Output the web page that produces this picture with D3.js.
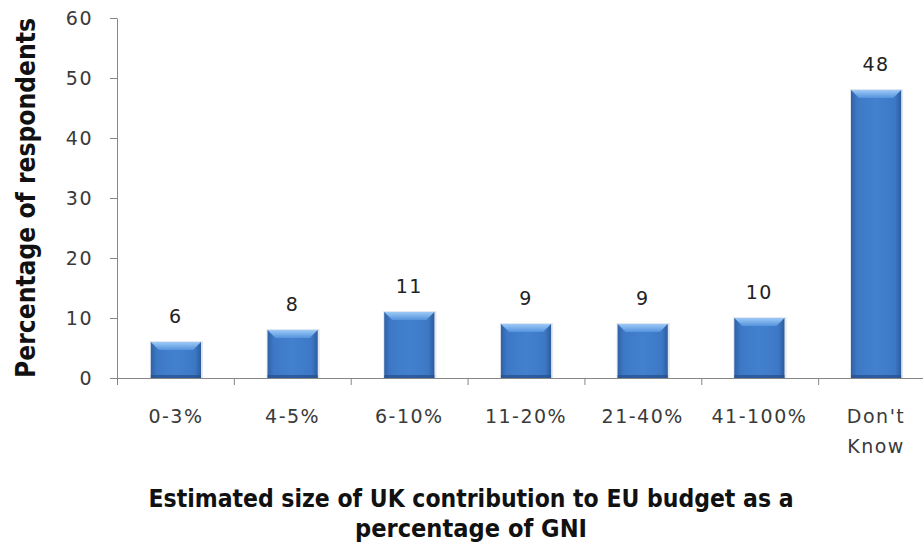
<!DOCTYPE html>
<html lang="en">
<head>
  <meta charset="UTF-8">
  <title>UK contribution to EU budget</title>
  <script src="https://d3js.org/d3.v7.min.js"></script>
  <style>
    body {
      margin: 0;
      background: #fff;
    }
    svg {
      display: block;
    }
    .axis path,
    .axis line {
      stroke: #868686;
    }
    .axis text {
      font-family: "DejaVu Sans", Verdana, sans-serif;
      font-size: 19px;
      fill: #3a3a3a;
      letter-spacing: 1.5px;
    }
    .value {
      font-family: "DejaVu Sans", Verdana, sans-serif;
      font-size: 19px;
      fill: #222;
      letter-spacing: 1.5px;
    }
    .title {
      font-family: "DejaVu Sans", sans-serif;
      font-weight: bold;
      fill: #111;
    }
  </style>
</head>
<body>
  <svg id="chart" width="923" height="550"></svg>

  <script>
    const categories = ["0-3%", "4-5%", "6-10%", "11-20%", "21-40%", "41-100%", "Don't Know"];
    const values = [6, 8, 11, 9, 9, 10, 48];
    const yTicks = [0, 10, 20, 30, 40, 50, 60];

    const width = 923, height = 550;
    const margin = { top: 18, right: -12, bottom: 172, left: 117 };
    const plotBottom = height - margin.bottom;

    const svg = d3.select("#chart");

    // gradients for the bevelled bars
    const defs = svg.append("defs");
    const bodyGrad = defs.append("linearGradient").attr("id", "barBody")
      .attr("x1", "0").attr("x2", "1").attr("y1", "0").attr("y2", "0");
    bodyGrad.append("stop").attr("offset", "0").attr("stop-color", "#2f62a6");
    bodyGrad.append("stop").attr("offset", "0.12").attr("stop-color", "#3d78c5");
    bodyGrad.append("stop").attr("offset", "0.5").attr("stop-color", "#4281cf");
    bodyGrad.append("stop").attr("offset", "0.88").attr("stop-color", "#3d78c5");
    bodyGrad.append("stop").attr("offset", "1").attr("stop-color", "#2c5c9f");

    const topGrad = defs.append("linearGradient").attr("id", "barTop")
      .attr("x1", "0").attr("x2", "0").attr("y1", "0").attr("y2", "1");
    topGrad.append("stop").attr("offset", "0").attr("stop-color", "#9ccaf6");
    topGrad.append("stop").attr("offset", "1").attr("stop-color", "#5593dd");

    const x = d3.scaleBand()
      .domain(categories)
      .range([margin.left, width - margin.right])
      .paddingInner(0.57)
      .paddingOuter(0.29);

    const y = d3.scaleLinear()
      .domain([0, 60])
      .range([plotBottom, margin.top]);

    // boundaries between categories for the x tick marks
    const xEdge = d3.scaleLinear()
      .domain([0, categories.length])
      .range([margin.left, width - margin.right]);

    // y axis
    svg.append("g")
      .attr("class", "axis")
      .attr("transform", `translate(${margin.left},0)`)
      .call(d3.axisLeft(y).tickValues(yTicks).tickSize(7).tickSizeOuter(0).tickPadding(17))
      .call(g => g.selectAll("text").attr("dy", "0.36em"));

    // bars
    const bw = x.bandwidth();
    const bev = 8;
    const bars = svg.append("g").selectAll("g")
      .data(values)
      .join("g")
      .attr("transform", (d, i) => `translate(${x(categories[i])},0)`);

    bars.append("rect")
      .attr("x", -1)
      .attr("y", d => y(d) - 1)
      .attr("width", bw + 3)
      .attr("height", d => plotBottom - y(d) + 1)
      .attr("fill", "#b8c4d4")
      .attr("opacity", 0.4);

    bars.append("rect")
      .attr("y", d => y(d))
      .attr("width", bw)
      .attr("height", d => plotBottom - y(d))
      .attr("fill", "url(#barBody)");

    bars.append("path")
      .attr("d", d => {
        const t = y(d);
        return `M0,${t}H${bw}L${bw - bev},${t + bev}H${bev}Z`;
      })
      .attr("fill", "url(#barTop)");

    bars.append("rect")
      .attr("y", plotBottom - 3)
      .attr("width", bw)
      .attr("height", 3)
      .attr("fill", "#254f8a")
      .attr("opacity", 0.7);

    // value labels
    bars.append("text")
      .attr("class", "value")
      .attr("x", bw / 2)
      .attr("y", d => y(d) - 19)
      .attr("text-anchor", "middle")
      .text(d => d);

    // x axis: boundary ticks
    svg.append("g")
      .attr("class", "axis")
      .attr("transform", `translate(0,${plotBottom})`)
      .call(d3.axisBottom(xEdge).tickValues(d3.range(categories.length + 1))
        .tickFormat("").tickSize(7).tickSizeOuter(0));

    // x axis: category labels
    const xl = svg.append("g")
      .attr("class", "axis")
      .attr("transform", `translate(0,${plotBottom})`)
      .call(d3.axisBottom(x).tickSize(0).tickPadding(32));
    xl.select(".domain").remove();
    xl.selectAll(".tick text").each(function (d) {
      const parts = d.split(" ");
      if (parts.length > 1) {
        const t = d3.select(this).text(null);
        parts.forEach((p, i) => {
          t.append("tspan").attr("x", 0).attr("dy", i === 0 ? "0.71em" : "30px").text(p);
        });
      }
    });

    // axis titles
    svg.append("text")
      .attr("class", "title")
      .attr("transform", `translate(35,198) rotate(-90)`)
      .attr("text-anchor", "middle")
      .attr("textLength", 360)
      .attr("lengthAdjust", "spacingAndGlyphs")
      .style("font-size", "26px")
      .text("Percentage of respondents");

    const xt = svg.append("text")
      .attr("class", "title")
      .attr("text-anchor", "middle")
      .style("font-size", "25px");
    xt.append("tspan").attr("x", 471).attr("y", 507)
      .attr("textLength", 645).attr("lengthAdjust", "spacingAndGlyphs")
      .text("Estimated size of UK contribution to EU budget as a");
    xt.append("tspan").attr("x", 471).attr("y", 537)
      .attr("textLength", 232).attr("lengthAdjust", "spacingAndGlyphs")
      .text("percentage of GNI");
  </script>
</body>
</html>
